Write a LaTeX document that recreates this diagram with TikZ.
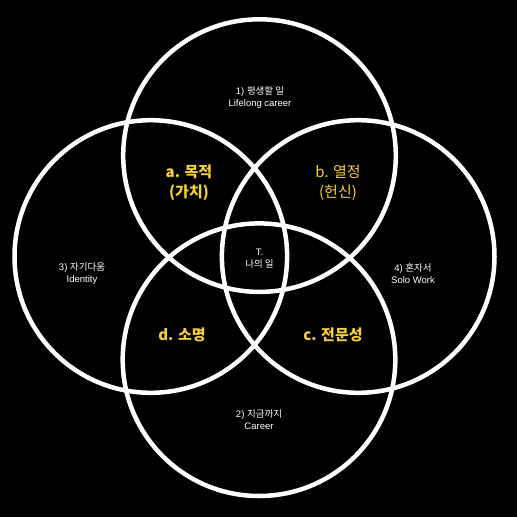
\documentclass[tikz,border=0pt]{standalone}
\usepackage{fontspec}
\setmainfont{Liberation Sans}
\newfontfamily\kr{Noto Sans CJK KR}
\begin{document}
\begin{tikzpicture}[x=1pt,y=-1pt,
  ring/.style={draw=white,line width=4.5pt},
  small/.style={text=white,align=center,inner sep=0pt,font=\fontsize{9.5}{12}\selectfont},
  big/.style={text=labelyellow,align=center,inner sep=0pt,font=\kr\bfseries\fontsize{15}{20}\selectfont},
  bigr/.style={text=labelyellow,align=center,inner sep=0pt,font=\kr\fontsize{15}{20}\selectfont}]
\definecolor{labelyellow}{HTML}{F4D03A}
\fill[black] (0,0) rectangle (517,517);
\useasboundingbox (0,0) rectangle (517,517);
\coordinate (ct) at (259.5,155.6);
\coordinate (cb) at (259,359.7);
\coordinate (cl) at (150.8,256.5);
\coordinate (cr) at (358.2,256.5);
\draw[ring] (ct) circle[radius=136.3];
\draw[ring] (cb) circle[radius=136.3];
\draw[ring] (cl) circle[radius=136.3];
\draw[ring] (cr) circle[radius=136.3];
\node[small] (n1) at (260,98) {1) {\kr 평생할 일}\\Lifelong career};
\node[small] (n2) at (259,420) {2) {\kr 지금까지}\\Career};
\node[small] (n3) at (82,274) {3) {\kr 자기다움}\\Identity};
\node[small] (n4) at (413,274) {4) {\kr 혼자서}\\Solo Work};
\node[small] (nt) at (259.5,258.5) {T.\\{\kr 나의 일}};
\node[big] (na) at (189,182.5) {a. 목적\\(가치)};
\node[bigr] (nb) at (338,182.5) {b. 열정\\(헌신)};
\node[big] (nc) at (333,335) {c. 전문성};
\node[big] (nd) at (182,335) {d. 소명};
\end{tikzpicture}
\end{document}
